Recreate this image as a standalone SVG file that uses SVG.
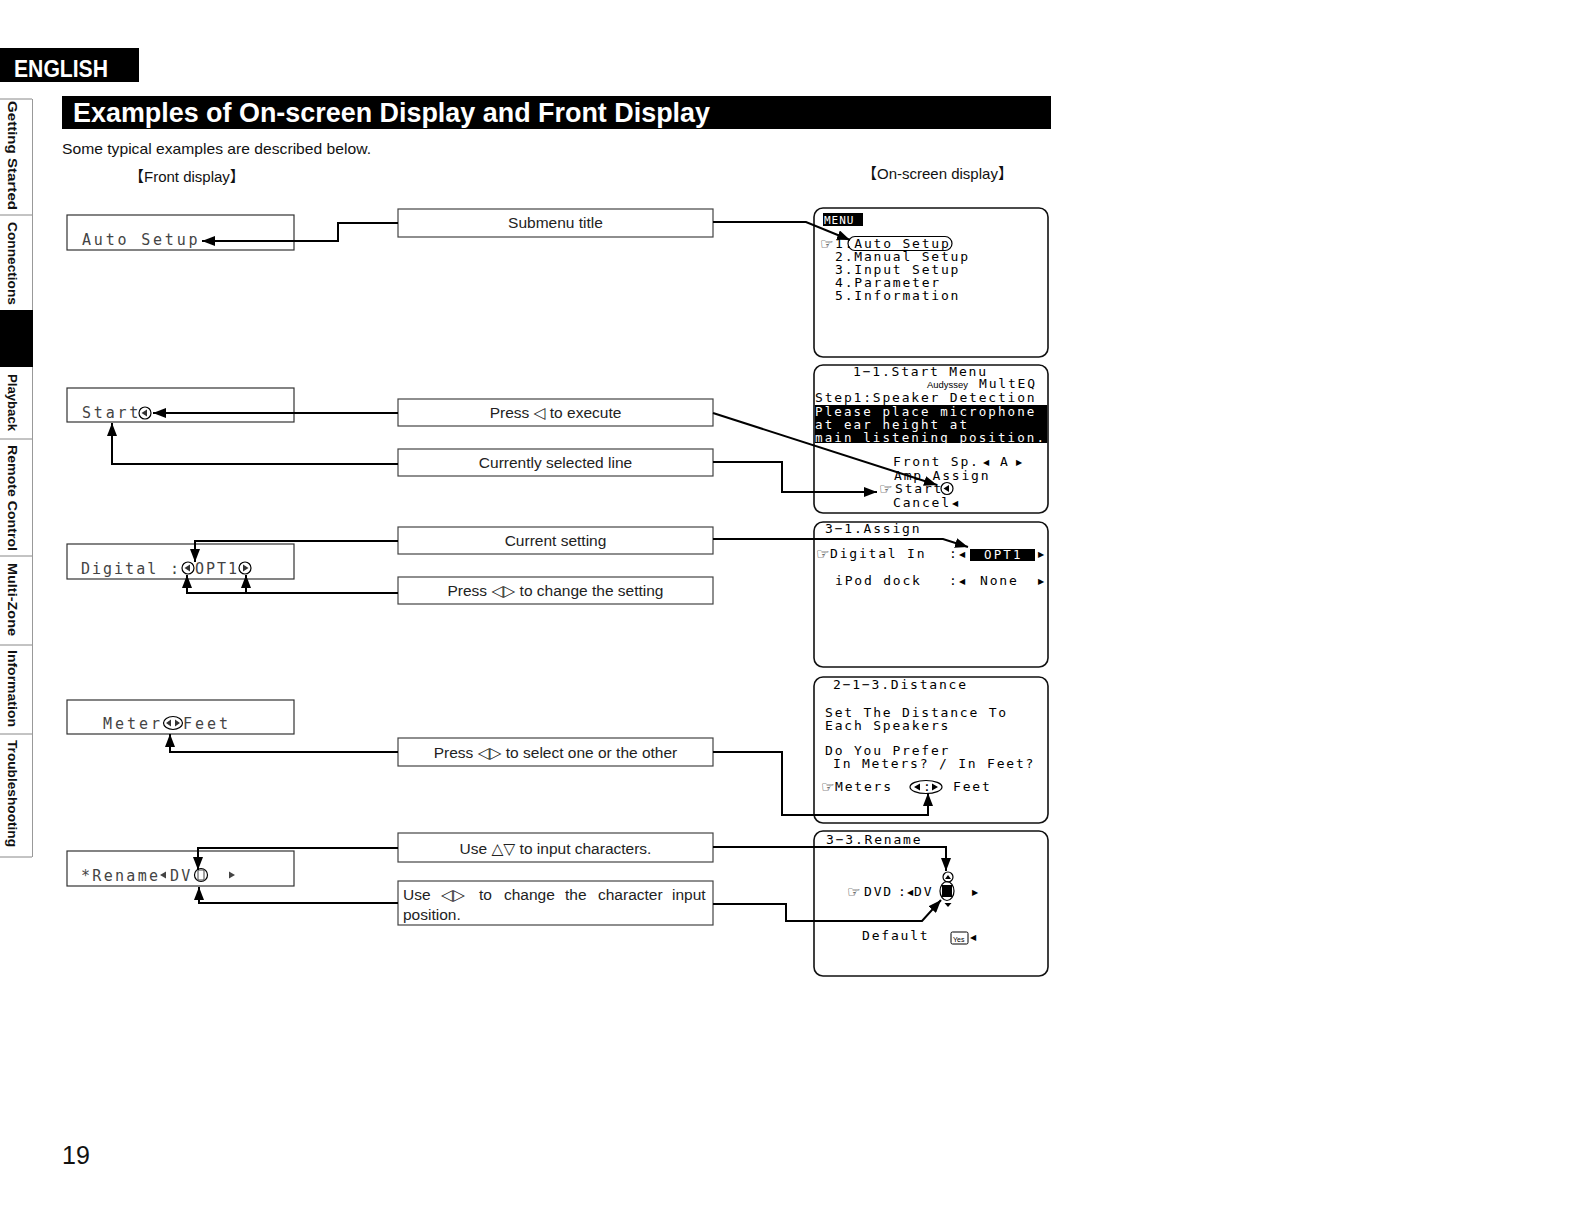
<svg xmlns="http://www.w3.org/2000/svg" width="1584" height="1224" viewBox="0 0 1584 1224">
<style>
.sans{font-family:"Liberation Sans",Arial,"DejaVu Sans",sans-serif;}
.cjk{font-family:"Liberation Sans","Noto Sans CJK JP",sans-serif;font-size:15px;fill:#111;}
.tab{font-family:"Liberation Sans",Arial,sans-serif;font-size:13px;font-weight:bold;fill:#111;}
.lbl{font-family:"Liberation Sans",Arial,"DejaVu Sans",sans-serif;font-size:15.5px;fill:#222;}
.lbox{fill:#fff;stroke:#444;stroke-width:1.2;}
.fbox{fill:#fff;stroke:#333;stroke-width:1.2;}
.lcd{font-family:"DejaVu Sans Mono",monospace;font-size:15px;fill:#444;letter-spacing:2.8px;}
.scr{fill:#fff;stroke:#111;stroke-width:1.6;}
.osd{font-family:"DejaVu Sans Mono",monospace;font-size:13px;fill:#000;letter-spacing:1.8px;}
.osdw{font-family:"DejaVu Sans Mono",monospace;font-size:12.5px;fill:#fff;letter-spacing:2.1px;}
.sym{font-family:"DejaVu Sans",sans-serif;font-size:8px;fill:#000;}
.hand{font-family:"DejaVu Sans",sans-serif;font-size:15px;fill:#000;}
.conn{fill:none;stroke:#000;stroke-width:2;}
.thin{fill:none;stroke:#000;stroke-width:1.2;}
</style>
<defs>
<marker id="ah" markerWidth="14" markerHeight="10" refX="13" refY="5" orient="auto" markerUnits="userSpaceOnUse">
<path d="M0,0 L13,5 L0,10 z" fill="#000"/>
</marker>
</defs>
<rect width="1584" height="1224" fill="#fff"/>

<g id="header">
<rect x="0" y="48" width="139" height="34" fill="#000"/>
<text x="14" y="77" class="sans" font-size="23" font-weight="bold" fill="#fff" textLength="94" lengthAdjust="spacingAndGlyphs">ENGLISH</text>
<rect x="62" y="96" width="989" height="33" fill="#000"/>
<text x="73" y="122" class="sans" font-size="27" font-weight="bold" fill="#fff" textLength="637" lengthAdjust="spacingAndGlyphs">Examples of On-screen Display and Front Display</text>
<text x="62" y="154" class="sans" font-size="15" fill="#111" textLength="309" lengthAdjust="spacingAndGlyphs">Some typical examples are described below.</text>
<text x="129" y="182" class="cjk">【Front display】</text>
<text x="862" y="179" class="cjk">【On-screen display】</text>
<text x="62" y="1164" class="sans" font-size="25" fill="#111">19</text>
</g>

<g id="sidebar">
<line x1="0" y1="99" x2="32" y2="99" stroke="#888" stroke-width="1"/>
<line x1="32.5" y1="99" x2="32.5" y2="857" stroke="#999" stroke-width="1"/>
<line x1="0" y1="215" x2="32" y2="215" stroke="#888" stroke-width="1"/>
<rect x="0" y="310" width="33" height="57" fill="#000"/>
<line x1="0" y1="439" x2="32" y2="439" stroke="#888" stroke-width="1"/>
<line x1="0" y1="556" x2="32" y2="556" stroke="#888" stroke-width="1"/>
<line x1="0" y1="645" x2="32" y2="645" stroke="#888" stroke-width="1"/>
<line x1="0" y1="734" x2="32" y2="734" stroke="#888" stroke-width="1"/>
<line x1="0" y1="857" x2="32" y2="857" stroke="#888" stroke-width="1"/>
<text class="tab" text-anchor="middle" transform="translate(8,155.5) rotate(90)" textLength="109" lengthAdjust="spacingAndGlyphs">Getting Started</text>
<text class="tab" text-anchor="middle" transform="translate(8,263.5) rotate(90)" textLength="83" lengthAdjust="spacingAndGlyphs">Connections</text>
<text class="tab" text-anchor="middle" transform="translate(8,402.5) rotate(90)" textLength="57" lengthAdjust="spacingAndGlyphs">Playback</text>
<text class="tab" text-anchor="middle" transform="translate(8,498) rotate(90)" textLength="106" lengthAdjust="spacingAndGlyphs">Remote Control</text>
<text class="tab" text-anchor="middle" transform="translate(8,599.5) rotate(90)" textLength="73" lengthAdjust="spacingAndGlyphs">Multi-Zone</text>
<text class="tab" text-anchor="middle" transform="translate(8,688.5) rotate(90)" textLength="77" lengthAdjust="spacingAndGlyphs">Information</text>
<text class="tab" text-anchor="middle" transform="translate(8,793.5) rotate(90)" textLength="107" lengthAdjust="spacingAndGlyphs">Troubleshooting</text>
</g>

<!-- Front display nodes -->
<g id="front-auto-setup">
<rect x="67" y="215" width="227" height="35" class="fbox"/>
<text x="82" y="245" class="lcd">Auto Setup</text>
</g>
<g id="front-start">
<rect x="67" y="388" width="227" height="34" class="fbox"/>
<text x="82" y="418" class="lcd">Start</text>
<circle cx="145" cy="413" r="6" class="thin" stroke="#333"/>
<path d="M141.5,413 L147,409.5 L147,416.5 z" fill="#333"/>
</g>
<g id="front-digital">
<rect x="67" y="544" width="227" height="35" class="fbox"/>
<text x="81" y="574" class="lcd" style="letter-spacing:2px">Digital</text>
<text x="170" y="574" class="lcd">:</text>
<circle cx="188" cy="568" r="6" class="thin" stroke="#333"/>
<path d="M184.5,568 L190,564.5 L190,571.5 z" fill="#333"/>
<text x="195" y="574" class="lcd" style="letter-spacing:2px">OPT1</text>
<circle cx="245" cy="568" r="6" class="thin" stroke="#333"/>
<path d="M248.5,568 L243,564.5 L243,571.5 z" fill="#333"/>
</g>
<g id="front-meter">
<rect x="67" y="700" width="227" height="34" class="fbox"/>
<text x="103" y="729" class="lcd" style="letter-spacing:3px">Meter</text>
<ellipse cx="173" cy="723" rx="9.5" ry="6.5" class="thin" stroke="#333"/>
<path d="M166,723 L171,719.5 L171,726.5 z M180,723 L175,719.5 L175,726.5 z" fill="#333"/>
<text x="183" y="729" class="lcd" style="letter-spacing:3px">Feet</text>
</g>
<g id="front-rename">
<rect x="67" y="851" width="227" height="35" class="fbox"/>
<text x="81" y="881" class="lcd" style="letter-spacing:2.3px">*Rename</text>
<path d="M160,875 L166,871.5 L166,878.5 z" fill="#444"/>
<text x="170" y="881" class="lcd" style="letter-spacing:2.3px">DV</text>
<circle cx="201" cy="875" r="6.5" class="thin" stroke="#333"/>
<rect x="198" y="870" width="6" height="10" fill="none" stroke="#444" stroke-width="1"/>
<path d="M235,875 L229,871.5 L229,878.5 z" fill="#444"/>
</g>

<!-- Label nodes -->
<g id="lbl-submenu">
<rect x="398" y="209" width="315" height="28" class="lbox"/>
<text x="555.5" y="228" class="lbl" text-anchor="middle">Submenu title</text>
</g>
<g id="lbl-press-execute">
<rect x="398" y="399" width="315" height="27" class="lbox"/>
<text x="555.5" y="418" class="lbl" text-anchor="middle">Press ◁ to execute</text>
</g>
<g id="lbl-current-line">
<rect x="398" y="449" width="315" height="27" class="lbox"/>
<text x="555.5" y="468" class="lbl" text-anchor="middle">Currently selected line</text>
</g>
<g id="lbl-current-setting">
<rect x="398" y="527" width="315" height="27" class="lbox"/>
<text x="555.5" y="546" class="lbl" text-anchor="middle">Current setting</text>
</g>
<g id="lbl-press-change">
<rect x="398" y="577" width="315" height="27" class="lbox"/>
<text x="555.5" y="596" class="lbl" text-anchor="middle">Press ◁▷ to change the setting</text>
</g>
<g id="lbl-press-select">
<rect x="398" y="738" width="315" height="28" class="lbox"/>
<text x="555.5" y="758" class="lbl" text-anchor="middle">Press ◁▷ to select one or the other</text>
</g>
<g id="lbl-use-updown">
<rect x="398" y="833" width="315" height="29" class="lbox"/>
<text x="555.5" y="854" class="lbl" text-anchor="middle">Use △▽ to input characters.</text>
</g>
<g id="lbl-use-leftright">
<rect x="398" y="881" width="315" height="44" class="lbox"/>
<text y="900" class="lbl"><tspan x="403">Use</tspan><tspan x="441">◁▷</tspan><tspan x="479">to</tspan><tspan x="504">change</tspan><tspan x="565">the</tspan><tspan x="598">character</tspan><tspan x="672">input</tspan></text>
<text x="403" y="920" class="lbl">position.</text>
</g>

<!-- On-screen displays -->
<g id="osd-menu">
<rect x="814" y="208" width="234" height="149" rx="9" class="scr"/>
<rect x="823" y="213" width="40" height="13" fill="#000"/>
<text x="824" y="224" class="osdw" style="font-size:11px;letter-spacing:1px">MENU</text>
<text x="820" y="249" class="hand">☞</text>
<text x="835" y="248" class="osd">1.Auto Setup</text>
<rect x="848" y="236.5" width="104" height="14" rx="7" class="thin"/>
<text x="835" y="261" class="osd">2.Manual Setup</text>
<text x="835" y="274" class="osd">3.Input Setup</text>
<text x="835" y="287" class="osd">4.Parameter</text>
<text x="835" y="300" class="osd">5.Information</text>
</g>

<g id="osd-start-menu">
<rect x="814" y="365" width="234" height="148" rx="9" class="scr"/>
<text x="853" y="376" class="osd">1−1.Start Menu</text>
<text x="927" y="388" class="sans" font-size="9" fill="#000" textLength="41" lengthAdjust="spacingAndGlyphs">Audyssey</text>
<text x="979" y="388" class="osd">MultEQ</text>
<text x="815" y="402" class="osd">Step1:Speaker Detection</text>
<rect x="814.8" y="405" width="232.4" height="38" fill="#000"/>
<text x="815" y="416" class="osdw">Please place microphone</text>
<text x="815" y="429" class="osdw">at ear height at</text>
<text x="815" y="442" class="osdw">main listening position.</text>
<text x="893" y="466" class="osd">Front Sp.</text>
<text x="983" y="465" class="sym">◀</text>
<text x="1000" y="466" class="osd">A</text>
<text x="1016" y="465" class="sym">▶</text>
<text x="894" y="480" class="osd">Amp Assign</text>
<text x="879" y="494" class="hand">☞</text>
<text x="895" y="493" class="osd">Start</text>
<circle cx="947" cy="488.5" r="6" class="thin"/>
<path d="M943.5,488.5 L949,485 L949,492 z" fill="#000"/>
<text x="893" y="507" class="osd">Cancel</text>
<text x="952" y="506" class="sym">◀</text>
</g>

<g id="osd-assign">
<rect x="814" y="522" width="234" height="145" rx="9" class="scr"/>
<text x="825" y="533" class="osd">3−1.Assign</text>
<text x="816" y="559" class="hand">☞</text>
<text x="830" y="558" class="osd">Digital In</text>
<text x="949" y="558" class="osd">:</text>
<text x="959" y="557" class="sym">◀</text>
<rect x="970" y="549" width="65" height="12" fill="#000"/>
<text x="984" y="559" class="osdw">OPT1</text>
<text x="1038" y="557" class="sym">▶</text>
<text x="835" y="585" class="osd">iPod dock</text>
<text x="949" y="585" class="osd">:</text>
<text x="959" y="584" class="sym">◀</text>
<text x="980" y="585" class="osd">None</text>
<text x="1038" y="584" class="sym">▶</text>
</g>

<g id="osd-distance">
<rect x="814" y="677" width="234" height="146" rx="9" class="scr"/>
<text x="833" y="689" class="osd">2−1−3.Distance</text>
<text x="825" y="717" class="osd">Set The Distance To</text>
<text x="825" y="730" class="osd">Each Speakers</text>
<text x="825" y="755" class="osd">Do You Prefer</text>
<text x="833" y="768" class="osd">In Meters? / In Feet?</text>
<text x="821" y="792" class="hand">☞</text>
<text x="835" y="791" class="osd">Meters</text>
<ellipse cx="926" cy="787" rx="16" ry="6.5" class="thin"/>
<path d="M914,787 L920,783.5 L920,790.5 z M938,787 L932,783.5 L932,790.5 z" fill="#000"/>
<text x="923" y="791" class="osd">:</text>
<text x="953" y="791" class="osd">Feet</text>
</g>

<g id="osd-rename">
<rect x="814" y="831" width="234" height="145" rx="9" class="scr"/>
<text x="826" y="844" class="osd">3−3.Rename</text>
<text x="847" y="897" class="hand">☞</text>
<text x="864" y="896" class="osd">DVD</text>
<text x="898" y="896" class="osd">:</text>
<text x="907" y="895" class="sym">◀</text>
<text x="914" y="896" class="osd">DV</text>
<rect x="942" y="885" width="10" height="12" fill="#000"/>
<ellipse cx="947" cy="891" rx="7" ry="9.5" class="thin"/>
<circle cx="948" cy="877" r="5" class="thin"/>
<path d="M945,879 L951,879 L948,875 z" fill="#000"/>
<path d="M944.5,903 L951.5,903 L948,907 z" fill="#000"/>
<text x="972" y="895" class="sym">▶</text>
<text x="862" y="940" class="osd">Default</text>
<rect x="951" y="932" width="17" height="12" rx="1.5" fill="#fff" stroke="#000" stroke-width="1"/>
<text x="953" y="941.5" class="sans" font-size="7" fill="#000">Yes</text>
<text x="970" y="940" class="sym">◀</text>
</g>

<g id="connectors">
<path class="conn" d="M398,223 H338 V241 H202" marker-end="url(#ah)"/>
<path class="conn" d="M713,222 H806 L850,240" marker-end="url(#ah)"/>
<path class="conn" d="M398,413 H153" marker-end="url(#ah)"/>
<path class="conn" d="M713,413 L937,485" marker-end="url(#ah)"/>
<path class="conn" d="M398,464 H112 V423" marker-end="url(#ah)"/>
<path class="conn" d="M713,462 H782 V492 H877" marker-end="url(#ah)"/>
<path class="conn" d="M398,541 H195 V562" marker-end="url(#ah)"/>
<path class="conn" d="M713,539 H943 L968,547" marker-end="url(#ah)"/>
<path class="conn" d="M398,593 H187 V575" marker-end="url(#ah)"/>
<path class="conn" d="M246,593 V575" marker-end="url(#ah)"/>
<path class="conn" d="M398,752 H170 V734" marker-end="url(#ah)"/>
<path class="conn" d="M713,752 H782 V815 H928 V793" marker-end="url(#ah)"/>
<path class="conn" d="M398,848 H198 V870" marker-end="url(#ah)"/>
<path class="conn" d="M713,847 H946 V871" marker-end="url(#ah)"/>
<path class="conn" d="M398,903 H199 V887" marker-end="url(#ah)"/>
<path class="conn" d="M713,904 H786 V921 H922 L941,900" marker-end="url(#ah)"/>
</g>
</svg>
